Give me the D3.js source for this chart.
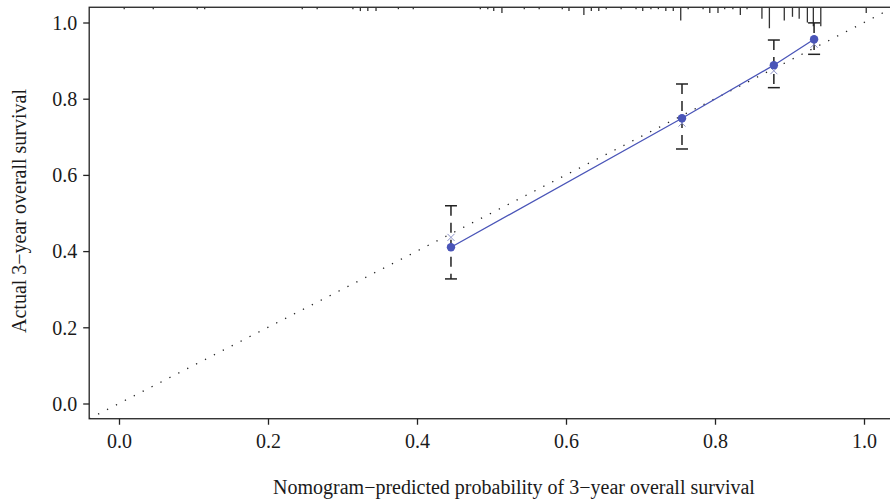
<!DOCTYPE html>
<html><head><meta charset="utf-8">
<script src="https://cdn.jsdelivr.net/npm/d3@7"></script>
<style>body{margin:0;background:#fff}svg{display:block}text{font-family:"Liberation Serif","DejaVu Serif",serif;fill:#1a1a1a}</style>
</head><body><svg id="c" width="890" height="500"></svg>
<script>
// Calibration groups
const predicted = [0.4456, 0.7557, 0.879, 0.933];
const observed  = [0.410, 0.7486, 0.888, 0.956];
const corrected = [0.436, 0.736, 0.8735, 0.943];
const lower     = [0.327, 0.668, 0.829, 0.9165];
const upper     = [0.519, 0.8386, 0.954, 0.999];
// Histogram spikes of predicted probabilities (bin position, frequency)
const spikeX = [0.007,0.046,0.105,0.115,0.246,0.266,0.314,0.324,0.334,0.345,0.375,0.395,0.485,0.495,0.503,0.514,0.544,0.564,0.595,0.604,0.624,0.634,0.644,0.654,0.674,0.694,0.703,0.714,0.724,0.734,0.744,0.754,0.764,0.784,0.793,0.804,0.813,0.824,0.834,0.843,0.863,0.873,0.893,0.904,0.913,0.924,0.932,0.942,1.003];
const spikeN = [1,1,1,1,1,1,1,2,2,2,1,1,1,1,2,3,1,1,1,2,4,2,2,1,1,1,2,1,1,2,2,7,1,1,3,3,1,1,4,1,6,11,7,5,6,8,10,10,3];
const xTicks = [0, 0.2, 0.4, 0.6, 0.8, 1.0];
const yTicks = [0, 0.2, 0.4, 0.6, 0.8, 1.0];
const lim = [-0.04, 1.04];
const xTitle = "Nomogram\u2212predicted probability of 3\u2212year overall survival";
const yTitle = "Actual 3\u2212year overall survival";

const svg = d3.select("#c");
const x = d3.scaleLinear().domain([0,1]).range([119,864]);
const y = d3.scaleLinear().domain([0,1]).range([403.5,22.5]);
const hN = d3.scaleLinear().domain([0,11]).range([0,21]);
const fmt = d3.format(".1f");

const x0=x(lim[0]), x1=x(lim[1]), y0=y(lim[0]), y1=y(lim[1]);
svg.append("clipPath").attr("id","clip").append("rect")
  .attr("x",x0).attr("y",y1).attr("width",x1-x0).attr("height",y0-y1);

// ideal line
svg.append("line").attr("clip-path","url(#clip)")
  .attr("x1",x(lim[0])).attr("y1",y(lim[0])).attr("x2",x(lim[1])).attr("y2",y(lim[1]))
  .attr("stroke","#222").attr("stroke-width",1.3).attr("stroke-dasharray","1.3,8.7");

// box
svg.append("rect").attr("x",x0).attr("y",y1).attr("width",x1-x0).attr("height",y0-y1)
  .attr("fill","none").attr("stroke","#222").attr("stroke-width",1.3);

// spikes
svg.append("g").selectAll("line").data(spikeX).join("line")
  .attr("x1",d=>x(d)).attr("x2",d=>x(d)).attr("y1",y1)
  .attr("y2",(d,i)=>y1+hN(spikeN[i]))
  .attr("stroke","#333").attr("stroke-width",1.3);

// axes
const xa = svg.append("g").attr("transform",`translate(0,${y0})`)
  .call(d3.axisBottom(x).tickValues(xTicks).tickFormat(fmt).tickSize(6).tickPadding(9));
const ya = svg.append("g").attr("transform",`translate(${x0},0)`)
  .call(d3.axisLeft(y).tickValues(yTicks).tickFormat(fmt).tickSize(6).tickPadding(6));
[xa,ya].forEach(g=>{
  g.select(".domain").remove();
  g.selectAll(".tick line").attr("stroke","#222").attr("stroke-width",1.3);
  g.selectAll(".tick text").attr("font-size",20).attr("font-family",'"Liberation Serif",serif').attr("fill","#1a1a1a");
});
ya.selectAll(".tick text").attr("dy","0.34em");

// titles
svg.append("text").attr("x",514).attr("y",494).attr("text-anchor","middle").attr("font-size",20).text(xTitle);
svg.append("text").attr("transform",`translate(26,${(y0+y1)/2-2}) rotate(-90)`).attr("text-anchor","middle").attr("font-size",20).text(yTitle);

// error bars
const eb = svg.append("g");
predicted.forEach((p,i)=>{
  eb.append("line").attr("x1",x(p)).attr("x2",x(p)).attr("y1",y(upper[i])).attr("y2",y(lower[i]))
    .attr("stroke","#222").attr("stroke-width",1.5).attr("stroke-dasharray","10,7");
  [upper[i],lower[i]].forEach(v=>{
    eb.append("line").attr("x1",x(p)-6).attr("x2",x(p)+6).attr("y1",y(v)).attr("y2",y(v))
      .attr("stroke","#222").attr("stroke-width",1.5);
  });
});

// calibration line
const blue="#4a55b8";
svg.append("path").datum(predicted)
  .attr("d",d3.line().x(d=>x(d)).y((d,i)=>y(observed[i])))
  .attr("fill","none").attr("stroke",blue).attr("stroke-width",1.3);

// bias-corrected x marks
svg.append("g").selectAll("path").data(predicted).join("path")
  .attr("d",(d,i)=>{const cx=x(d),cy=y(corrected[i]),s=3.5;return `M${cx-s},${cy-s}L${cx+s},${cy+s}M${cx-s},${cy+s}L${cx+s},${cy-s}`;})
  .attr("stroke","#8c92c8").attr("stroke-width",1);

// points
svg.append("g").selectAll("circle").data(predicted).join("circle")
  .attr("cx",d=>x(d)).attr("cy",(d,i)=>y(observed[i])).attr("r",4.2).attr("fill",blue);
</script></body></html>
